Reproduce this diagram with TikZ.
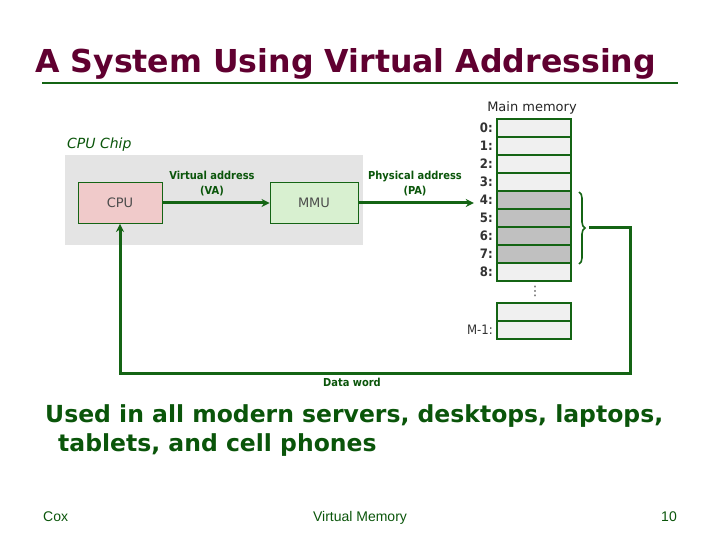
\documentclass[tikz,border=0pt]{standalone}
\usepackage{fontspec}
\setmainfont{DejaVu Sans}
\newfontfamily\condfont{DejaVu Sans Condensed}
\newfontfamily\footfont{Liberation Sans}
\usetikzlibrary{arrows.meta,decorations.pathreplacing}
\definecolor{titlered}{RGB}{96,0,48}
\definecolor{linegreen}{RGB}{20,100,20}
\definecolor{textgreen}{RGB}{10,85,10}
\definecolor{chipgray}{RGB}{228,228,228}
\definecolor{cpupink}{RGB}{240,202,202}
\definecolor{mmugreen}{RGB}{216,240,208}
\definecolor{celllight}{RGB}{240,240,240}
\definecolor{celldark}{RGB}{192,192,192}
\begin{document}
\begin{tikzpicture}[x=1pt, y=-1pt,
    box/.style={draw=linegreen, line width=0.9pt, minimum height=41pt, inner sep=0pt, font=\fontsize{13}{15}\selectfont, text=black!70},
    cell/.style={draw=linegreen, line width=2.8pt, minimum width=74pt, minimum height=18pt, inner sep=0pt},
    rowlbl/.style={anchor=east, inner sep=0pt, font=\condfont\bfseries\fontsize{13}{15}\selectfont, text=black!80},
    addr/.style={align=center, font=\condfont\bfseries\fontsize{11}{15}\selectfont, text=textgreen},
    link/.style={draw=linegreen, line width=3pt, -{Stealth[length=8pt,width=8pt]}}]
    \useasboundingbox (0,0) rectangle (720,540);

    %Title
    \node[anchor=base west, inner sep=0pt, text=titlered, font=\bfseries\fontsize{31.6}{36}\selectfont] at (35,73) (title) {A System Using Virtual Addressing};
    \draw[linegreen, line width=2.8pt] (42,83) -- (678,83);

    %Chip
    \node[fill=chipgray, minimum width=298pt, minimum height=90pt, inner sep=0pt] at (214,200) (chip) {};
    \node[anchor=south west, inner sep=1pt, text=textgreen, font=\itshape\fontsize{14}{16}\selectfont] at (66,153) (chiplbl) {CPU Chip};
    \node[box, fill=cpupink, minimum width=84pt] at (120,203) (cpu) {CPU};
    \node[box, fill=mmugreen, minimum width=88pt] at (314,203) (mmu) {MMU};
    \node[addr] at (212,184) (va) {Virtual address\\(VA)};
    \node[addr] at (415,184) (pa) {Physical address\\(PA)};

    %Memory
    \node[font=\fontsize{13}{15}\selectfont, text=black!85] at (532,108) (memlbl) {Main memory};
    \foreach \i/\shade in {0/celllight,1/celllight,2/celllight,3/celllight,4/celldark,5/celldark,6/celldark,7/celldark,8/celllight} {
        \node[cell, fill=\shade] at (534,{128+18*\i}) (m\i) {};
        \node[rowlbl] at (493,{128+18*\i}) (l\i) {\i:};
    }
    \node[inner sep=0pt, text=black!70, font=\fontsize{13}{15}\selectfont] at (535,291) (dots) {⋮};
    \node[cell, fill=celllight] at (534,312) (ma) {};
    \node[cell, fill=celllight] at (534,330) (mb) {};
    \node[anchor=east, inner sep=0pt, text=black!80, font=\condfont\fontsize{13}{15}\selectfont] at (493,330) (lm) {M-1:};

    %Lines
    \draw[link] (cpu) -- (mmu);
    \draw[link, shorten >=6pt] (mmu.east) -- (mmu.east -| l4.west);
    \draw[linegreen, line width=1.6pt, decorate, decoration={brace, amplitude=6pt}] (579,192) -- (579,264);
    \coordinate (tip) at (589,228);
    \coordinate (corner) at (630,373);
    \draw[link] (tip) -| (corner) -| (cpu.south);
    \node[addr] at (352,382) (dw) {Data word};

    %Text
    \node[anchor=base west, inner sep=0pt, text=textgreen, font=\bfseries\fontsize{23.5}{28}\selectfont] at (45,422) (use1) {Used in all modern servers, desktops, laptops,};
    \node[anchor=base west, inner sep=0pt, text=textgreen, font=\bfseries\fontsize{23.5}{28}\selectfont] at (58,451) (use2) {tablets, and cell phones};

    %Footer
    \node[anchor=base west, inner sep=0pt, text=textgreen, font=\footfont\fontsize{14}{16}\selectfont] at (43,521) (cox) {Cox};
    \node[anchor=base, inner sep=0pt, text=textgreen, font=\footfont\fontsize{14}{16}\selectfont] at (360,521) (vm) {Virtual Memory};
    \node[anchor=base east, inner sep=0pt, text=textgreen, font=\footfont\fontsize{14}{16}\selectfont] at (677,521) (pg) {10};
\end{tikzpicture}
\end{document}
